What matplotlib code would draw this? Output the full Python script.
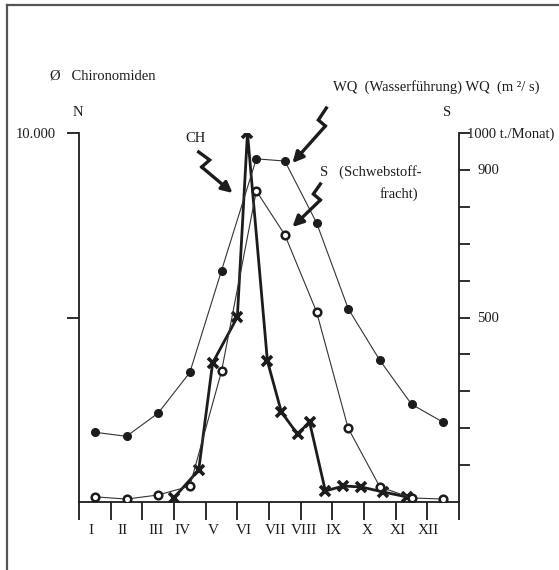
import matplotlib
matplotlib.use('Agg')
import matplotlib.pyplot as plt
import matplotlib.transforms as mtransforms
from matplotlib.lines import Line2D

plt.rcParams['font.family'] = ['Liberation Serif', 'DejaVu Serif']

# data
months = ['I', 'II', 'III', 'IV', 'V', 'VI', 'VII', 'VIII', 'IX', 'X', 'XI', 'XII']
month_mid = [0.5, 1.5, 2.5, 3.5, 4.5, 5.6, 6.5, 7.5, 8.5, 9.5, 10.5, 11.5]
wq = [189, 178, 241, 351, 627, 930, 924, 757, 524, 384, 265, 216]          # Wasserfuehrung
s_fracht = [14, 8, 19, 43, 354, 843, 724, 516, 200, 41, 11, 8]             # Schwebstofffracht t/Monat
ch_time = [2.99, 3.78, 4.22, 5.0, 5.32, 5.95, 6.39, 6.9, 7.28, 7.78, 8.35, 8.91, 9.61, 10.36]
ch_n = [108, 867, 3770, 5010, 10000, 3820, 2440, 1840, 2170, 300, 434, 407, 271, 136]

W, H = 559, 570
ink = '#1c1c1c'
fs = 10.5

fig = plt.figure(figsize=(W / 100, H / 100), dpi=100)
fig.patch.set_facecolor('white')

# axes box in pixels: left 79, right 459, top 133, bottom 502
ax = fig.add_axes([79 / W, 1 - 502 / H, (459 - 79) / W, (502 - 133) / H])
ax2 = ax.twinx()

ax.set_xlim(0, 12)
ax.set_ylim(0, 10000)
ax2.set_ylim(0, 1000)

for a in (ax, ax2):
    a.patch.set_visible(False)
    a.spines['top'].set_visible(False)
    for sp in a.spines.values():
        sp.set_color(ink)
        sp.set_linewidth(1.3)
ax.spines['right'].set_visible(False)
ax2.spines['left'].set_visible(False)
ax2.spines['bottom'].set_visible(False)

# x axis: month boundaries as ticks, labels as text
ax.set_xticks(range(13))
ax.set_xticklabels([])
ax.tick_params(axis='x', direction='out', length=13, width=1.3, color=ink)
label_pos = [0.38, 1.39, 2.43, 3.28, 4.25, 5.2, 6.2, 7.12, 8.03, 9.1, 10.08, 11.02]
trans = mtransforms.blended_transform_factory(ax.transData, ax.transAxes)
for xp, m in zip(label_pos, months):
    ax.text(xp, -0.076, m, transform=trans, ha='center', va='center', fontsize=fs + 0.5, color=ink)

# left axis N
ax.set_yticks([5000, 10000])
ax.set_yticklabels(['', '10.000'], fontsize=fs, color=ink)
ax.tick_params(axis='y', direction='out', length=9, width=1.3, color=ink, pad=8)

# right axis S
ax2.set_yticks(range(100, 1001, 100))
ax2.set_yticklabels([])
ax2.tick_params(axis='y', direction='out', length=8, width=1.3, color=ink)

# series
ax2.plot(month_mid, wq, color='#333333', lw=0.8, marker='o', ms=5.5,
         mfc=ink, mec=ink, zorder=3)
ax2.plot(month_mid, s_fracht, color='#333333', lw=0.8, marker='o', ms=5.5,
         mfc='white', mec=ink, mew=1.8, zorder=3)
ax.plot(ch_time, ch_n, color=ink, lw=2.0, marker='x', ms=7, mew=2.6, zorder=4)


def px2data(px, py):
    return (px - 78) / 31.75, (502 - py) * 1000 / 369


def bolt(pts):
    d = [px2data(*p) for p in pts]
    xs = [p[0] for p in d[:-1]]
    ys = [p[1] for p in d[:-1]]
    ax2.plot(xs, ys, color=ink, lw=2.4, clip_on=False, solid_joinstyle='miter')
    ax2.annotate('', xy=d[-1], xytext=d[-2], annotation_clip=False,
                 arrowprops=dict(arrowstyle='-|>', color=ink, lw=2.4,
                                 mutation_scale=16, shrinkA=0, shrinkB=0))


bolt([(198, 152), (209, 160), (201, 167), (232, 193)])
bolt([(326, 108), (318, 120), (325, 126), (292, 163)])
bolt([(320, 184), (313, 194), (320, 200), (292, 227)])


def ftext(px, py, s, ha='left', **kw):
    fig.text(px / W, 1 - py / H, s, ha=ha, va='center', fontsize=fs, color=ink, **kw)


ftext(50, 76, 'Ø   Chironomiden')
ftext(78, 113, 'N', ha='center')
ftext(185, 139, 'CH')
ftext(333, 87, 'WQ  (Wasserführung) WQ  (m ²/ s)')
ftext(320, 172, 'S   (Schwebstoff-')
ftext(418, 194, 'fracht)', ha='right')
ftext(447, 113, 'S', ha='center')
ftext(467, 134, '1000 t./Monat)')
ftext(478, 170, '900')
ftext(477, 318, '500')

# scan frame
fig.add_artist(Line2D([7 / W, 1], [1 - 5 / H, 1 - 5 / H], color='#555555', lw=1.6))
fig.add_artist(Line2D([7 / W, 7 / W], [0, 1 - 5 / H], color='#555555', lw=1.6))

fig.savefig('out.png', dpi=100, facecolor='white')
